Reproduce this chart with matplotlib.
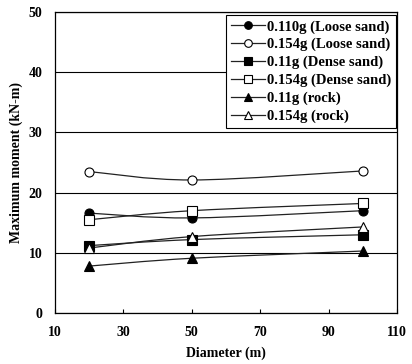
import numpy as np
import matplotlib
matplotlib.use("Agg")
import matplotlib.pyplot as plt
from matplotlib.path import Path
from matplotlib.patches import PathPatch
from matplotlib.lines import Line2D

plt.rcParams['font.family'] = ['Liberation Serif', 'DejaVu Serif']
plt.rcParams['font.weight'] = 'bold'

diameter = [20, 50, 100]
loose_011 = [16.6, 15.8, 17.0]
loose_0154 = [23.5, 22.1, 23.6]
dense_011 = [11.2, 12.2, 13.0]
dense_0154 = [15.5, 17.0, 18.2]
rock_011 = [7.8, 9.1, 10.3]
rock_0154 = [10.8, 12.7, 14.3]

series = [
    ("0.110g (Loose sand)", loose_011, 'o', 'black'),
    ("0.154g (Loose sand)", loose_0154, 'o', 'white'),
    ("0.11g (Dense sand)", dense_011, 's', 'black'),
    ("0.154g (Dense sand)", dense_0154, 's', 'white'),
    ("0.11g (rock)", rock_011, '^', 'black'),
    ("0.154g (rock)", rock_0154, '^', 'white'),
]

x_ticks = [10, 30, 50, 70, 90, 110]
y_ticks = [0, 10, 20, 30, 40, 50]

fig = plt.figure(figsize=(4.12, 3.64), dpi=100)
ax = fig.add_axes([0.1335, 0.140, 0.830, 0.827])


def smooth_path(xs, ys, tension=1 / 6):
    pts = np.column_stack([xs, ys]).astype(float)
    n = len(pts)
    verts = [pts[0]]
    codes = [Path.MOVETO]
    for i in range(n - 1):
        p0 = pts[i - 1] if i > 0 else pts[i]
        p1 = pts[i]
        p2 = pts[i + 1]
        p3 = pts[i + 2] if i + 2 < n else pts[i + 1]
        c1 = p1 + (p2 - p0) * tension
        c2 = p2 - (p3 - p1) * tension
        verts += [c1, c2, p2]
        codes += [Path.CURVE4] * 3
    return Path(verts, codes)


handles = []
for label, vals, mk, fc in series:
    patch = PathPatch(smooth_path(diameter, vals), facecolor='none',
                      edgecolor='#222222', lw=0.9, zorder=3)
    ax.add_patch(patch)
    ax.plot(diameter, vals, linestyle='none', marker=mk, markersize=6.5,
            markerfacecolor=fc, markeredgecolor='black', markeredgewidth=0.8,
            zorder=4)
    handles.append(Line2D([], [], color='#222222', lw=0.9, marker=mk,
                          markersize=5.5, markerfacecolor=fc,
                          markeredgecolor='black', markeredgewidth=0.8,
                          label=label))

ax.set_xlim(10, 110)
ax.set_ylim(0, 50)
ax.set_xticks(x_ticks)
ax.set_yticks(y_ticks)
ax.tick_params(axis='x', direction='in', length=3, width=0.8, labelsize=10, pad=9)
ax.tick_params(axis='y', length=0, labelsize=10, pad=9)
for t in ax.get_xticklabels() + ax.get_yticklabels():
    t.set_fontweight('bold')
ax.yaxis.grid(True, color='black', lw=0.8)
ax.set_axisbelow(True)
for s in ax.spines.values():
    s.set_linewidth(0.9)

ax.set_xlabel("Diameter (m)", fontsize=10, fontweight='bold', labelpad=6)
ax.set_ylabel("Maximum moment (kN-m)", fontsize=10, fontweight='bold', labelpad=4)

leg = ax.legend(handles=handles, loc='upper right', bbox_to_anchor=(0.998, 0.99),
                fontsize=10.5, frameon=True, fancybox=False, framealpha=1,
                edgecolor='black', handlelength=2.3, handletextpad=0.15,
                labelspacing=0.3, borderpad=0.35, borderaxespad=0.0)
leg.get_frame().set_linewidth(0.8)
for t in leg.get_texts():
    t.set_fontweight('bold')

fig.savefig("out.png", dpi=100)
